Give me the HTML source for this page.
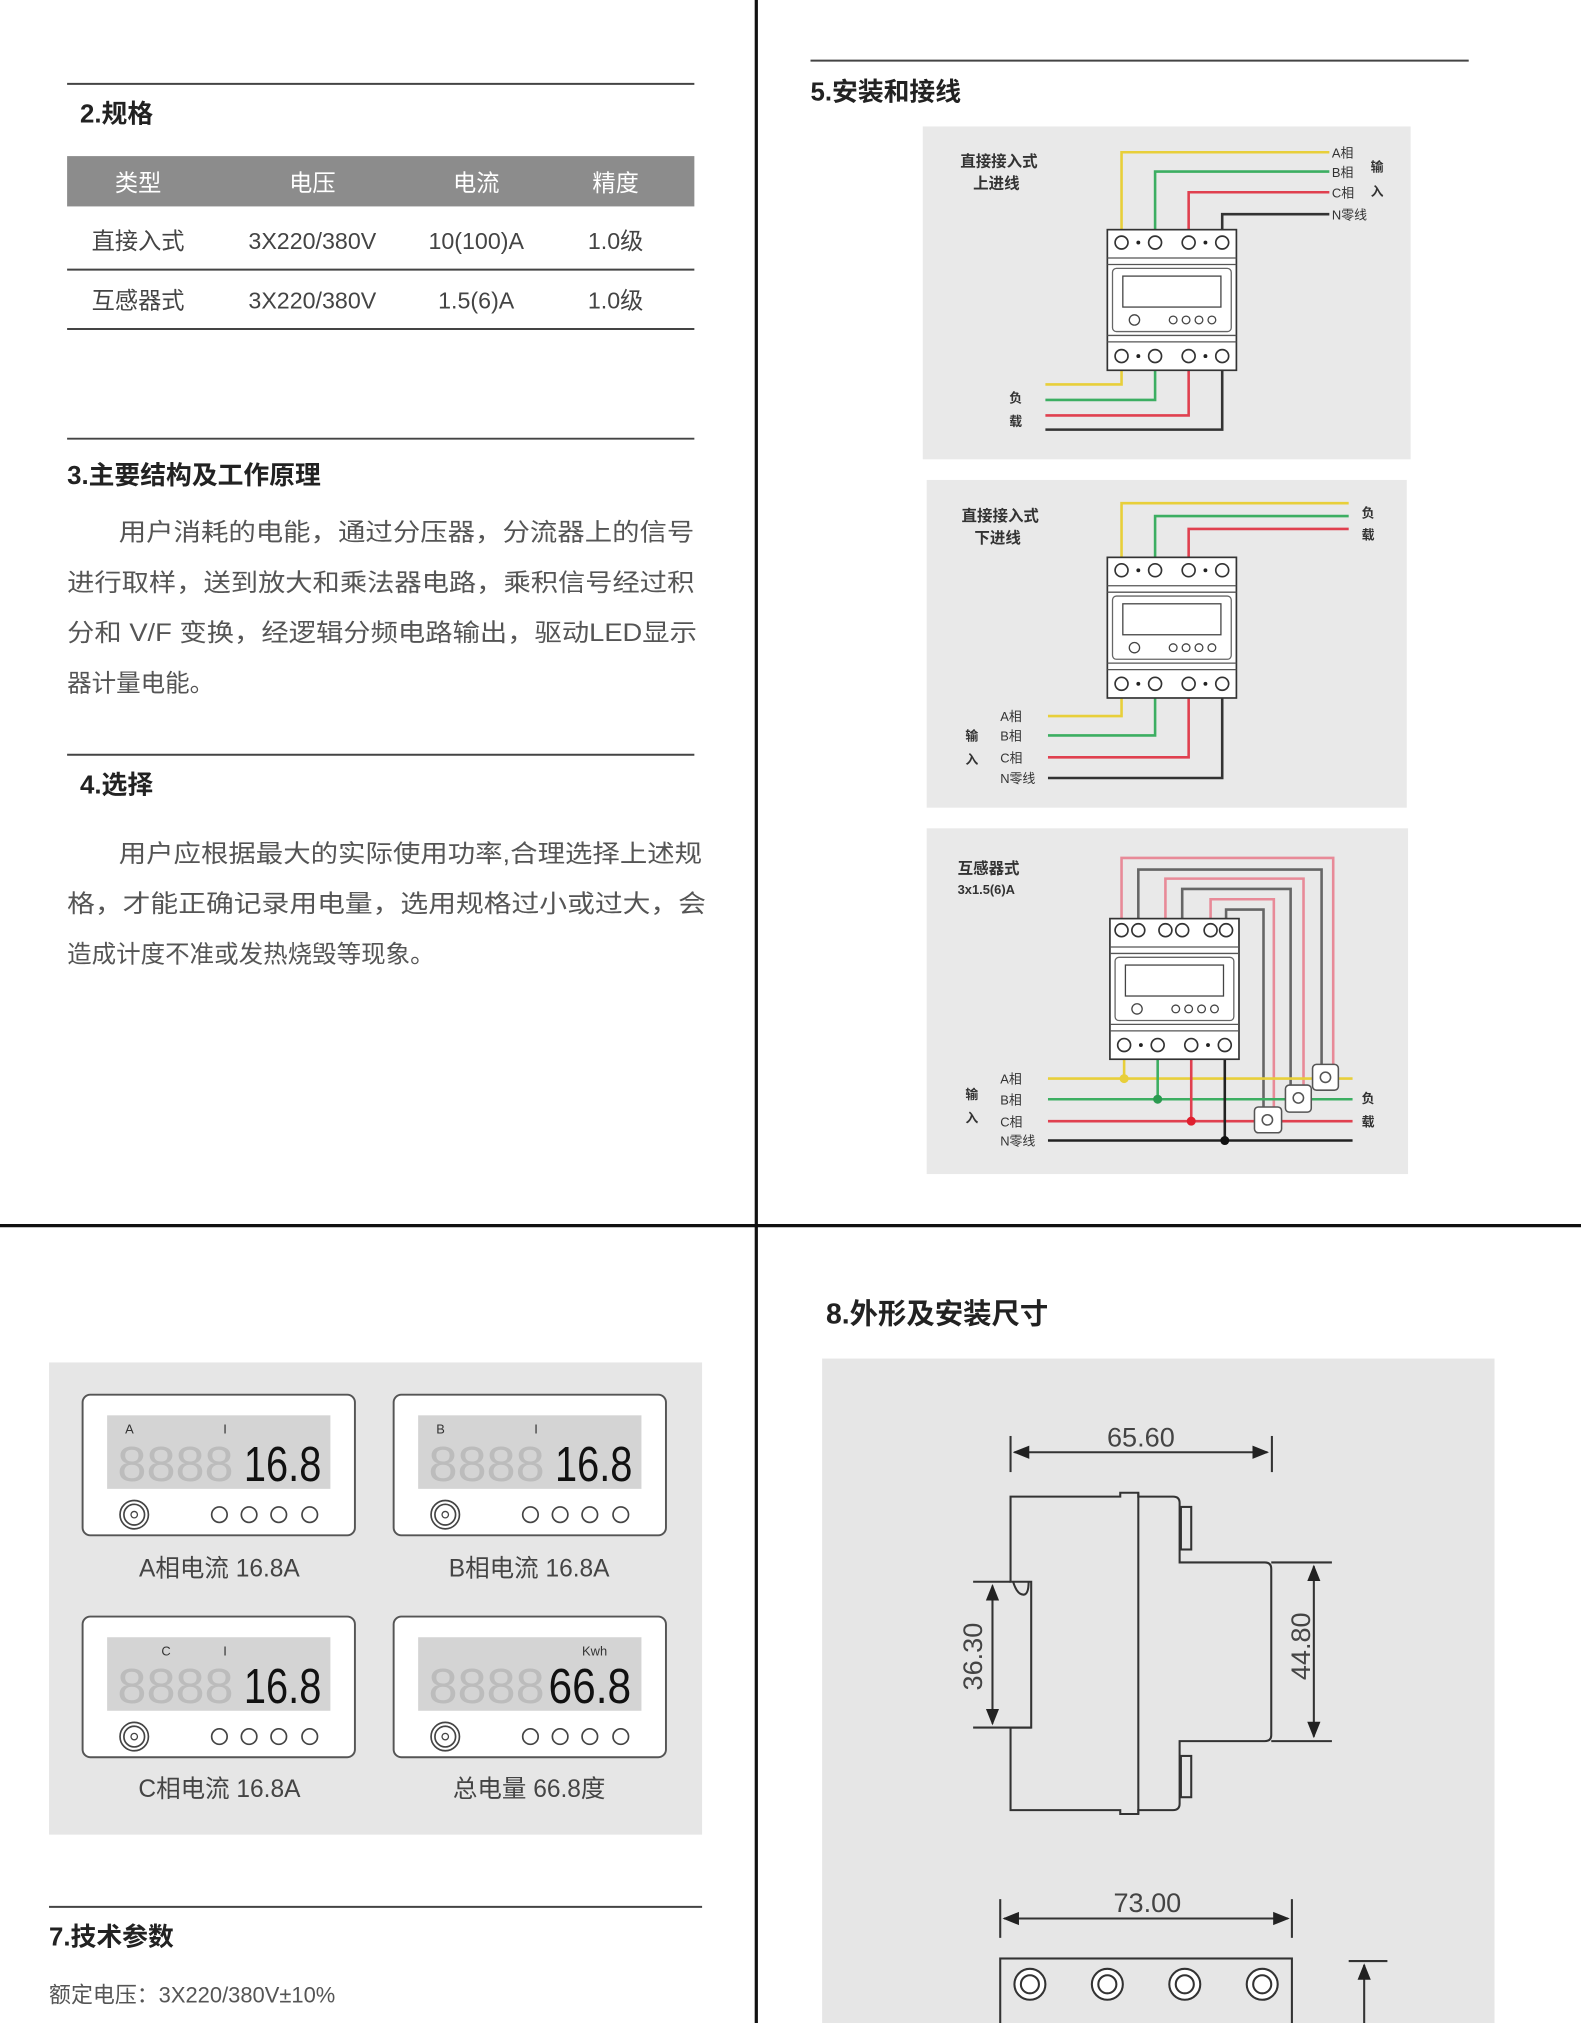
<!DOCTYPE html>
<html><head><meta charset="utf-8"><style>
html,body{margin:0;padding:0;background:#fff;}
svg{display:block;}
text{font-family:"Liberation Sans","Noto Sans CJK SC",sans-serif;}
</style></head><body>
<svg width="1581" height="2023" viewBox="0 0 1225 1568" preserveAspectRatio="none" xmlns="http://www.w3.org/2000/svg">
<defs>
<marker id="ar" viewBox="0 0 10 10" refX="9" refY="5" markerWidth="8" markerHeight="8" orient="auto-start-reverse"><path d="M0,1 L10,5 L0,9 z" fill="#222"/></marker>
<g id="mbody">
<rect x="0" y="0" width="100" height="109" fill="#fff" stroke="#333" stroke-width="1.3"/>
<line x1="0" y1="22" x2="100" y2="22" stroke="#555"/>
<line x1="0" y1="27" x2="100" y2="27" stroke="#555"/>
<line x1="0" y1="82" x2="100" y2="82" stroke="#555"/>
<line x1="0" y1="87" x2="100" y2="87" stroke="#555"/>
<rect x="4" y="30" width="92" height="49" rx="3" fill="none" stroke="#666"/>
<rect x="12" y="36" width="76" height="24" fill="#fff" stroke="#444"/>
<circle cx="21" cy="70" r="4" fill="none" stroke="#444"/>
<circle cx="51" cy="70" r="3" fill="none" stroke="#444"/>
<circle cx="61" cy="70" r="3" fill="none" stroke="#444"/>
<circle cx="71" cy="70" r="3" fill="none" stroke="#444"/>
<circle cx="81" cy="70" r="3" fill="none" stroke="#444"/>
<g fill="#fff" stroke="#333" stroke-width="1.3">
<circle cx="11" cy="98" r="5"/><circle cx="37" cy="98" r="5"/><circle cx="63" cy="98" r="5"/><circle cx="89" cy="98" r="5"/>
</g>
<circle cx="24" cy="98" r="1.5" fill="#222"/><circle cx="76" cy="98" r="1.5" fill="#222"/>
</g>
<g id="mtop4">
<g fill="#fff" stroke="#333" stroke-width="1.3">
<circle cx="11" cy="10" r="5"/><circle cx="37" cy="10" r="5"/><circle cx="63" cy="10" r="5"/><circle cx="89" cy="10" r="5"/>
</g>
<circle cx="24" cy="10" r="1.5" fill="#222"/><circle cx="76" cy="10" r="1.5" fill="#222"/>
</g>
<g id="card">
<rect x="0" y="0" width="211" height="109" rx="6" fill="#fff" stroke="#555" stroke-width="1.5"/>
<rect x="19" y="16" width="173" height="57" fill="#d4d4d4"/>
<circle cx="40" cy="93" r="11" fill="none" stroke="#444" stroke-width="1.3"/>
<circle cx="40" cy="93" r="8" fill="none" stroke="#444" stroke-width="1.3"/>
<circle cx="40" cy="93" r="2.5" fill="none" stroke="#444"/>
<g fill="none" stroke="#444" stroke-width="1.3">
<circle cx="106" cy="93" r="6"/><circle cx="129" cy="93" r="6"/><circle cx="152" cy="93" r="6"/><circle cx="176" cy="93" r="6"/>
</g>
</g>
</defs>

<!-- dividers -->
<line x1="586" y1="0" x2="586" y2="1568" stroke="#111" stroke-width="2.5"/>
<line x1="0" y1="950" x2="1225" y2="950" stroke="#111" stroke-width="2.5"/>

<!-- 2. spec -->
<line x1="52" y1="65" x2="538" y2="65" stroke="#444" stroke-width="1.5"/>
<text x="62" y="95" font-size="20" font-weight="bold" fill="#222">2.规格</text>
<rect x="52" y="121" width="486" height="39" fill="#8c8c8c"/>
<g font-size="18" fill="#fff" text-anchor="middle">
<text x="107" y="148">类型</text><text x="242" y="148">电压</text><text x="369" y="148">电流</text><text x="477" y="148">精度</text>
</g>
<g font-size="18" fill="#444" text-anchor="middle">
<text x="107" y="193">直接入式</text><text x="242" y="193">3X220/380V</text><text x="369" y="193">10(100)A</text><text x="477" y="193">1.0级</text>
<text x="107" y="239">互感器式</text><text x="242" y="239">3X220/380V</text><text x="369" y="239">1.5(6)A</text><text x="477" y="239">1.0级</text>
</g>
<line x1="52" y1="209" x2="538" y2="209" stroke="#444" stroke-width="1.5"/>
<line x1="52" y1="255" x2="538" y2="255" stroke="#444" stroke-width="1.5"/>

<!-- 3 -->
<line x1="52" y1="340" x2="538" y2="340" stroke="#444" stroke-width="1.5"/>
<text x="52" y="375" font-size="20" font-weight="bold" fill="#222">3.主要结构及工作原理</text>
<g font-size="19" fill="#555">
<text x="92" y="419" textLength="446" lengthAdjust="spacingAndGlyphs">用户消耗的电能，通过分压器，分流器上的信号</text>
<text x="52" y="458" textLength="486" lengthAdjust="spacingAndGlyphs">进行取样，送到放大和乘法器电路，乘积信号经过积</text>
<text x="52" y="497" textLength="488" lengthAdjust="spacingAndGlyphs">分和 V/F 变换，经逻辑分频电路输出，驱动LED显示</text>
<text x="52" y="536">器计量电能。</text>
</g>

<!-- 4 -->
<line x1="52" y1="585" x2="538" y2="585" stroke="#444" stroke-width="1.5"/>
<text x="62" y="615" font-size="20" font-weight="bold" fill="#222">4.选择</text>
<g font-size="19" fill="#555">
<text x="92" y="668" textLength="452" lengthAdjust="spacingAndGlyphs">用户应根据最大的实际使用功率,合理选择上述规</text>
<text x="52" y="707" textLength="495" lengthAdjust="spacingAndGlyphs">格，才能正确记录用电量，选用规格过小或过大，会</text>
<text x="52" y="746">造成计度不准或发热烧毁等现象。</text>
</g>

<!-- 5 -->
<line x1="628" y1="47" x2="1138" y2="47" stroke="#444" stroke-width="1.5"/>
<text x="628" y="78" font-size="20" font-weight="bold" fill="#222">5.安装和接线</text>

<!-- panel 1 -->
<rect x="715" y="98" width="378" height="258" fill="#e9e9e9"/>
<g font-size="12" font-weight="bold" fill="#333" text-anchor="middle">
<text x="774" y="129">直接接入式</text><text x="772" y="146">上进线</text>
</g>
<g fill="none" stroke-width="2">
<polyline points="869,181 869,118 1030,118" stroke="#e8cf3a"/>
<polyline points="895,181 895,133 1030,133" stroke="#3cae62"/>
<polyline points="921,181 921,149 1030,149" stroke="#e0404f"/>
<polyline points="947,181 947,166 1030,166" stroke="#333"/>
<polyline points="869,284 869,298 810,298" stroke="#e8cf3a"/>
<polyline points="895,284 895,310 810,310" stroke="#3cae62"/>
<polyline points="921,284 921,322 810,322" stroke="#e0404f"/>
<polyline points="947,284 947,333 810,333" stroke="#333"/>
</g>
<g transform="translate(858,178)"><use href="#mbody"/><use href="#mtop4"/></g>
<g font-size="10" fill="#333">
<text x="1032" y="122">A相</text><text x="1032" y="137">B相</text><text x="1032" y="153">C相</text><text x="1032" y="170">N零线</text>
<text x="1062" y="133" font-weight="bold">输</text><text x="1062" y="152" font-weight="bold">入</text>
<text x="782" y="312" font-weight="bold">负</text><text x="782" y="330" font-weight="bold">载</text>
</g>

<!-- panel 2 -->
<rect x="718" y="372" width="372" height="254" fill="#e9e9e9"/>
<g font-size="12" font-weight="bold" fill="#333" text-anchor="middle">
<text x="775" y="404">直接接入式</text><text x="773" y="421">下进线</text>
</g>
<g fill="none" stroke-width="2">
<polyline points="869,436 869,390 1045,390" stroke="#e8cf3a"/>
<polyline points="895,436 895,400 1045,400" stroke="#3cae62"/>
<polyline points="921,436 921,410 1045,410" stroke="#e0404f"/>
<polyline points="869,538 869,555 812,555" stroke="#e8cf3a"/>
<polyline points="895,538 895,570 812,570" stroke="#3cae62"/>
<polyline points="921,538 921,587 812,587" stroke="#e0404f"/>
<polyline points="947,538 947,603 812,603" stroke="#333"/>
</g>
<g transform="translate(858,432)"><use href="#mbody"/><use href="#mtop4"/></g>
<g font-size="10" fill="#333">
<text x="1055" y="401" font-weight="bold">负</text><text x="1055" y="418" font-weight="bold">载</text>
<text x="775" y="559">A相</text><text x="775" y="574">B相</text><text x="775" y="591">C相</text><text x="775" y="607">N零线</text>
<text x="748" y="574" font-weight="bold">输</text><text x="748" y="592" font-weight="bold">入</text>
</g>

<!-- panel 3 -->
<rect x="718" y="642" width="373" height="268" fill="#e9e9e9"/>
<text x="742" y="677" font-size="12" font-weight="bold" fill="#333">互感器式</text>
<text x="742" y="693" font-size="10" font-weight="bold" fill="#333">3x1.5(6)A</text>
<g fill="none" stroke-width="2">
<polyline points="869,715 869,665 1033,665 1033,828" stroke="#e88a98"/>
<polyline points="882,715 882,674 1024,674 1024,828" stroke="#666"/>
<polyline points="903,715 903,681 1010,681 1010,844" stroke="#e88a98"/>
<polyline points="916,715 916,689 1000,689 1000,844" stroke="#666"/>
<polyline points="938,715 938,697 987,697 987,861" stroke="#e88a98"/>
<polyline points="950,715 950,705 979,705 979,861" stroke="#666"/>
<line x1="812" y1="836" x2="1048" y2="836" stroke="#e8cf3a"/>
<line x1="812" y1="852" x2="1048" y2="852" stroke="#3cae62"/>
<line x1="812" y1="869" x2="1048" y2="869" stroke="#e0404f"/>
<line x1="812" y1="884" x2="1048" y2="884" stroke="#222"/>
<line x1="871" y1="818" x2="871" y2="836" stroke="#e8cf3a"/>
<line x1="897" y1="818" x2="897" y2="852" stroke="#3cae62"/>
<line x1="923" y1="818" x2="923" y2="869" stroke="#e0404f"/>
<line x1="949" y1="818" x2="949" y2="884" stroke="#222"/>
</g>
<g transform="translate(860,712)">
<use href="#mbody"/>
<g fill="#fff" stroke="#333" stroke-width="1.3">
<circle cx="9" cy="9" r="5"/><circle cx="22" cy="9" r="5"/><circle cx="43" cy="9" r="5"/><circle cx="56" cy="9" r="5"/><circle cx="78" cy="9" r="5"/><circle cx="90" cy="9" r="5"/>
</g>
</g>
<g fill="#fff" stroke="#555" stroke-width="1.2">
<rect x="1017" y="825" width="20" height="20" rx="3"/><circle cx="1027" cy="835" r="4"/>
<rect x="996" y="841" width="20" height="21" rx="3"/><circle cx="1006" cy="851" r="4"/>
<rect x="972" y="858" width="21" height="20" rx="3"/><circle cx="982" cy="868" r="4"/>
</g>
<circle cx="871" cy="836" r="3.5" fill="#e8cf3a"/>
<circle cx="897" cy="852" r="3.5" fill="#2a9a50"/>
<circle cx="923" cy="869" r="3.5" fill="#e0202f"/>
<circle cx="949" cy="884" r="3.5" fill="#111"/>
<g font-size="10" fill="#333">
<text x="775" y="840">A相</text><text x="775" y="856">B相</text><text x="775" y="873">C相</text><text x="775" y="888">N零线</text>
<text x="748" y="852" font-weight="bold">输</text><text x="748" y="870" font-weight="bold">入</text>
<text x="1055" y="855" font-weight="bold">负</text><text x="1055" y="873" font-weight="bold">载</text>
</g>

<!-- 6 display cards -->
<rect x="38" y="1056" width="506" height="366" fill="#e6e6e6"/>
<g transform="translate(64,1081)"><use href="#card"/>
<text x="33" y="30" font-size="10" font-family="Liberation Serif,serif" fill="#333">A</text><text x="109" y="30" font-size="10" font-family="Liberation Serif,serif" fill="#333">I</text>
<text x="27" y="67" font-size="38" fill="#bcbcbc" textLength="90" lengthAdjust="spacingAndGlyphs">8888</text>
<text x="125" y="67" font-size="38" fill="#111" textLength="60" lengthAdjust="spacingAndGlyphs">16.8</text></g>
<g transform="translate(305,1081)"><use href="#card"/>
<text x="33" y="30" font-size="10" font-family="Liberation Serif,serif" fill="#333">B</text><text x="109" y="30" font-size="10" font-family="Liberation Serif,serif" fill="#333">I</text>
<text x="27" y="67" font-size="38" fill="#bcbcbc" textLength="90" lengthAdjust="spacingAndGlyphs">8888</text>
<text x="125" y="67" font-size="38" fill="#111" textLength="60" lengthAdjust="spacingAndGlyphs">16.8</text></g>
<g transform="translate(64,1253)"><use href="#card"/>
<text x="61" y="30" font-size="10" font-family="Liberation Serif,serif" fill="#333">C</text><text x="109" y="30" font-size="10" font-family="Liberation Serif,serif" fill="#333">I</text>
<text x="27" y="67" font-size="38" fill="#bcbcbc" textLength="90" lengthAdjust="spacingAndGlyphs">8888</text>
<text x="125" y="67" font-size="38" fill="#111" textLength="60" lengthAdjust="spacingAndGlyphs">16.8</text></g>
<g transform="translate(305,1253)"><use href="#card"/>
<text x="146" y="30" font-size="10" font-family="Liberation Serif,serif" fill="#333">Kwh</text>
<text x="27" y="67" font-size="38" fill="#bcbcbc" textLength="90" lengthAdjust="spacingAndGlyphs">8888</text>
<text x="120" y="67" font-size="38" fill="#111" textLength="64" lengthAdjust="spacingAndGlyphs">66.8</text></g>
<g font-size="19" fill="#444" text-anchor="middle">
<text x="170" y="1222">A相电流 16.8A</text><text x="410" y="1222">B相电流 16.8A</text>
<text x="170" y="1393">C相电流 16.8A</text><text x="410" y="1393">总电量 66.8度</text>
</g>

<!-- 7 -->
<line x1="38" y1="1478" x2="544" y2="1478" stroke="#444" stroke-width="1.5"/>
<text x="38" y="1508" font-size="20" font-weight="bold" fill="#222">7.技术参数</text>
<text x="38" y="1552" font-size="17" fill="#555">额定电压：3X220/380V±10%</text>

<!-- 8 -->
<text x="640" y="1026" font-size="22" font-weight="bold" fill="#222">8.外形及安装尺寸</text>
<rect x="637" y="1053" width="521" height="515" fill="#e6e6e6"/>
<g stroke="#333" stroke-width="1.6" fill="none">
<line x1="783" y1="1113" x2="783" y2="1141"/><line x1="985.5" y1="1113" x2="985.5" y2="1141"/>
<line x1="786" y1="1125.6" x2="982" y2="1125.6" marker-start="url(#ar)" marker-end="url(#ar)"/>
<path d="M783,1160 L868,1160 L868,1157 L882,1157 L882,1160 L909,1160 Q914,1160 914,1165 L914,1211 L980,1211 Q985,1211 985,1216 L985,1345 Q985,1349.5 980,1349.5 L914,1349.5 L914,1398 Q914,1403 909,1403 L882,1403 L882,1406 L868,1406 L868,1403 L783,1403 L783,1339 L799,1339 L799,1226 L783,1226 Z" fill="#e6e6e6"/>
<line x1="882" y1="1157" x2="882" y2="1406"/>
<path d="M785,1226 Q788,1236 793,1236 Q797,1236 797,1226"/>
<rect x="915" y="1168" width="8" height="33"/><rect x="915" y="1361" width="8" height="32"/>
<line x1="754" y1="1226" x2="783" y2="1226"/><line x1="754" y1="1339" x2="799" y2="1339"/>
<line x1="769" y1="1229" x2="769" y2="1336" marker-start="url(#ar)" marker-end="url(#ar)"/>
<line x1="985" y1="1211" x2="1032" y2="1211"/><line x1="985" y1="1349.5" x2="1032" y2="1349.5"/>
<line x1="1018" y1="1214" x2="1018" y2="1346" marker-start="url(#ar)" marker-end="url(#ar)"/>
<line x1="775" y1="1472" x2="775" y2="1502"/><line x1="1001" y1="1472" x2="1001" y2="1502"/>
<line x1="778" y1="1487" x2="998" y2="1487" marker-start="url(#ar)" marker-end="url(#ar)"/>
<rect x="775" y="1518" width="226" height="60" fill="#e6e6e6"/>
<line x1="1045" y1="1520" x2="1075" y2="1520"/>
<line x1="1057" y1="1523" x2="1057" y2="1580" marker-start="url(#ar)"/>
</g>
<g stroke="#333" stroke-width="1.6" fill="#fff">
<circle cx="798" cy="1538" r="12"/><circle cx="858" cy="1538" r="12"/><circle cx="918" cy="1538" r="12"/><circle cx="978" cy="1538" r="12"/>
<circle cx="798" cy="1538" r="7"/><circle cx="858" cy="1538" r="7"/><circle cx="918" cy="1538" r="7"/><circle cx="978" cy="1538" r="7"/>
</g>
<g font-size="21" fill="#444" text-anchor="middle">
<text x="884" y="1121">65.60</text>
<text x="889" y="1482">73.00</text>
<text transform="translate(761,1284) rotate(-90)">36.30</text>
<text transform="translate(1015,1276) rotate(-90)">44.80</text>
</g>
</svg>
</body></html>
